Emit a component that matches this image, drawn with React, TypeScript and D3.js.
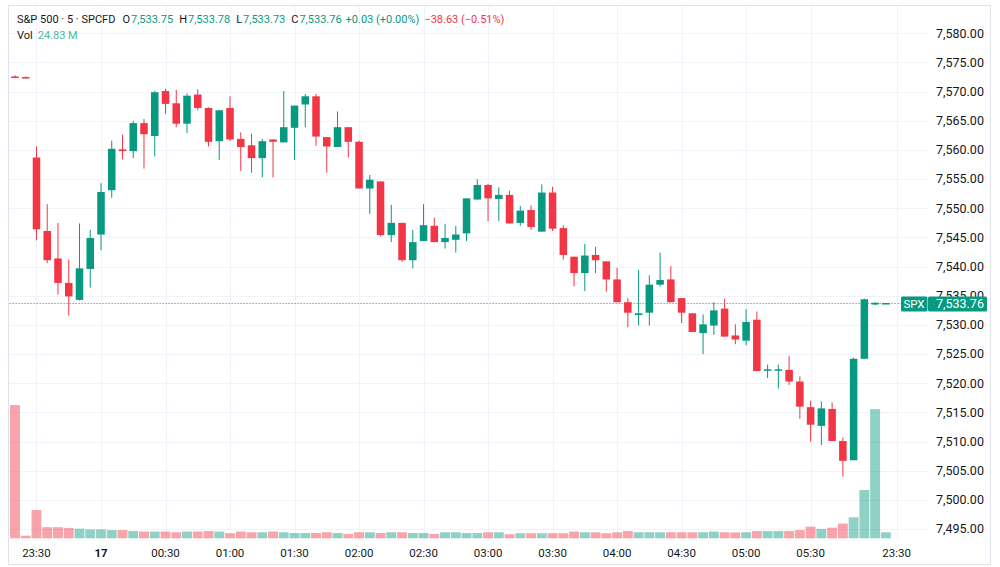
import React, {useEffect, useRef} from "react";
import * as d3 from "d3";

// 5 min bars, S&P 500 CFD
const times = [
    "23:20", "23:25", "23:30", "23:35", "23:40", "23:45", "23:50", "23:55",
    "00:00", "00:05", "00:10", "00:15", "00:20", "00:25", "00:30", "00:35", "00:40", "00:45", "00:50", "00:55",
    "01:00", "01:05", "01:10", "01:15", "01:20", "01:25", "01:30", "01:35", "01:40", "01:45", "01:50", "01:55",
    "02:00", "02:05", "02:10", "02:15", "02:20", "02:25", "02:30", "02:35", "02:40", "02:45", "02:50", "02:55",
    "03:00", "03:05", "03:10", "03:15", "03:20", "03:25", "03:30", "03:35", "03:40", "03:45", "03:50", "03:55",
    "04:00", "04:05", "04:10", "04:15", "04:20", "04:25", "04:30", "04:35", "04:40", "04:45", "04:50", "04:55",
    "05:00", "05:05", "05:10", "05:15", "05:20", "05:25", "05:30", "05:35", "05:40", "05:45", "05:50", "05:55",
    "06:00", "06:05",
]

const opens = [
    7572.6, 7572.5,
    7558.7, 7546.1, 7541.4, 7537.2, 7534.3, 7539.6, 7545.5, 7553.1, 7560.1, 7559.8,
    7564.6, 7562.4, 7570.1, 7568.0, 7564.5, 7569.5, 7567.2, 7561.5, 7567.2, 7561.9,
    7560.8, 7558.6, 7561.8, 7561.3, 7563.8, 7567.8, 7569.2, 7562.2, 7560.5, 7563.9,
    7561.4, 7553.4, 7554.6, 7545.4, 7547.5, 7541.1, 7544.4, 7547.0, 7544.2, 7544.6,
    7545.7, 7551.5, 7554.0, 7551.6, 7552.3, 7547.5, 7549.7, 7546.0, 7552.7, 7546.6,
    7541.7, 7538.9, 7542.0, 7540.9, 7537.8, 7533.9, 7531.7, 7532.1, 7536.9, 7537.8,
    7534.6, 7532.0, 7528.6, 7529.9, 7532.8, 7528.2, 7527.3, 7530.9, 7522.2, 7522.2,
    7522.3, 7520.3, 7515.9, 7512.7, 7515.6, 7510.1, 7506.8, 7524.2, 7533.5, 7533.75,
]
const highs = [
    7572.8, 7572.6,
    7560.6, 7550.7, 7547.5, 7541.2, 7547.4, 7546.3, 7554.3, 7561.6, 7562.6, 7565.0,
    7565.3, 7570.1, 7570.5, 7570.3, 7569.7, 7570.4, 7567.3, 7566.8, 7569.2, 7563.0,
    7562.8, 7561.9, 7561.8, 7570.1, 7567.6, 7569.6, 7569.6, 7562.2, 7566.6, 7563.9,
    7561.6, 7555.7, 7554.6, 7550.6, 7547.5, 7546.3, 7550.7, 7548.4, 7547.3, 7547.0,
    7551.7, 7555.0, 7554.2, 7553.6, 7553.0, 7550.4, 7550.5, 7554.1, 7553.7, 7547.1,
    7541.7, 7543.9, 7543.4, 7540.9, 7539.8, 7534.6, 7539.4, 7538.5, 7542.4, 7540.1,
    7534.6, 7532.0, 7531.8, 7533.9, 7534.5, 7530.1, 7532.7, 7532.3, 7523.2, 7523.2,
    7524.7, 7521.2, 7517.0, 7516.9, 7516.7, 7510.7, 7524.4, 7534.5, 7533.9, 7533.78,
]
const lows = [
    7572.3, 7572.4,
    7544.5, 7540.6, 7535.2, 7531.6, 7534.2, 7536.4, 7542.8, 7551.8, 7558.4, 7558.6,
    7556.8, 7558.9, 7566.2, 7563.9, 7562.9, 7566.8, 7560.6, 7558.3, 7561.5, 7556.4,
    7556.1, 7555.3, 7555.3, 7561.3, 7558.3, 7563.9, 7560.7, 7556.1, 7560.5, 7558.7,
    7553.4, 7549.0, 7545.2, 7544.2, 7540.8, 7539.7, 7544.4, 7544.2, 7543.1, 7542.4,
    7544.4, 7551.5, 7547.8, 7547.8, 7547.4, 7547.0, 7546.3, 7546.0, 7546.1, 7541.2,
    7536.6, 7535.8, 7538.9, 7535.7, 7533.9, 7529.6, 7529.9, 7529.9, 7536.6, 7533.9,
    7530.3, 7528.8, 7525.0, 7528.3, 7528.0, 7526.7, 7526.5, 7522.1, 7520.9, 7519.1,
    7519.7, 7513.9, 7510.0, 7509.4, 7510.1, 7504.0, 7506.8, 7524.2, 7533.4, 7533.73,
]
const closes = [
    7572.4, 7572.4,
    7546.4, 7541.1, 7537.2, 7534.9, 7539.7, 7544.9, 7552.8, 7560.2, 7559.8, 7564.6,
    7562.7, 7569.9, 7567.9, 7564.5, 7569.3, 7567.2, 7561.4, 7566.8, 7561.8, 7560.5,
    7558.6, 7561.5, 7561.4, 7563.9, 7567.6, 7569.2, 7562.3, 7560.6, 7563.9, 7561.4,
    7553.4, 7554.9, 7545.4, 7547.5, 7541.1, 7544.2, 7547.1, 7544.2, 7544.9, 7545.5,
    7551.7, 7554.0, 7551.7, 7552.3, 7547.4, 7549.6, 7546.8, 7552.7, 7546.5, 7542.0,
    7538.9, 7541.9, 7541.1, 7537.8, 7533.9, 7532.1, 7532.0, 7536.9, 7537.7, 7533.9,
    7532.1, 7528.8, 7530.1, 7532.5, 7528.0, 7527.5, 7530.5, 7522.1, 7522.4, 7522.4,
    7520.3, 7516.0, 7512.9, 7515.7, 7510.1, 7506.7, 7524.2, 7534.4, 7533.8, 7533.76,
]
// volume, millions
const volumes = [
    552, 11,
    117, 46, 46, 43, 40, 37, 37, 34, 34, 30,
    28, 28, 28, 25, 28, 28, 30, 28, 21, 28,
    25, 25, 28, 25, 22, 22, 22, 25, 22, 18,
    25, 25, 22, 25, 25, 22, 22, 18, 25, 25,
    22, 22, 25, 25, 17, 21, 21, 21, 21, 21,
    28, 25, 25, 21, 25, 30, 25, 25, 25, 25,
    25, 25, 25, 28, 25, 24, 25, 30, 30, 30,
    30, 34, 48, 39, 44, 61, 87, 200, 535, 24.83,
]

const priceTicks = [7580, 7575, 7570, 7565, 7560, 7555, 7550, 7545, 7540, 7535, 7530, 7525, 7520, 7515, 7510, 7505, 7500, 7495]
const tickTimes = ["23:30", "00:00", "00:30", "01:00", "01:30", "02:00", "02:30", "03:00", "03:30", "04:00", "04:30", "05:00", "05:30", "next"]
const tickLabels = ["23:30", "17", "00:30", "01:00", "01:30", "02:00", "02:30", "03:00", "03:30", "04:00", "04:30", "05:00", "05:30", "23:30"]
const lastPrice = 7533.76

const UP = "#089981"
const DOWN = "#f23645"
const TEXT = "#131722"
const GRID = "#f0f3fa"

const App = () => {
    const svgRef = useRef(null)

    useEffect(() => {
        const svg = d3.select(svgRef.current)
        const slots = [...times, "next"]  // one empty slot on the right, next session

        const xScale = d3.scaleBand().domain(slots).range([9.6, 902])
        const yScale = d3.scaleLinear().domain([7495, 7580]).range([529.1, 33.3])
        const volScale = d3.scaleLinear().domain([0, d3.max(volumes) as number]).range([538.3, 405])

        const bars = times.map((t, i) => ({t, o: opens[i], h: highs[i], l: lows[i], c: closes[i], v: volumes[i]}))
        const cx = (t: string) => (xScale(t) as number) + xScale.bandwidth() / 2
        const bw = xScale.bandwidth()

        // grid
        svg.select(".grid").selectAll(".hgrid")
            .data(priceTicks)
            .join("line")
            .attr("class", "hgrid")
            .attr("x1", 9).attr("x2", 928)
            .attr("y1", d => Math.round(yScale(d)) + 0.5).attr("y2", d => Math.round(yScale(d)) + 0.5)
            .attr("stroke", GRID)
        svg.select(".grid").selectAll(".vgrid")
            .data(tickTimes)
            .join("line")
            .attr("class", "vgrid")
            .attr("x1", d => Math.round(cx(d)) + 0.5).attr("x2", d => Math.round(cx(d)) + 0.5)
            .attr("y1", 6).attr("y2", 540)
            .attr("stroke", GRID)

        // volume
        svg.select(".volume").selectAll("rect")
            .data(bars)
            .join("rect")
            .attr("x", d => cx(d.t) - bw * 0.46)
            .attr("width", bw * 0.92)
            .attr("y", d => volScale(d.v))
            .attr("height", d => volScale(0) - volScale(d.v))
            .attr("fill", d => d.c >= d.o ? UP : DOWN)
            .attr("opacity", 0.45)

        // candles
        svg.select(".wicks").selectAll("line")
            .data(bars)
            .join("line")
            .attr("x1", d => cx(d.t)).attr("x2", d => cx(d.t))
            .attr("y1", d => yScale(d.h)).attr("y2", d => yScale(d.l))
            .attr("stroke", d => d.c >= d.o ? UP : DOWN)
            .attr("stroke-width", 1)
        svg.select(".bodies").selectAll("rect")
            .data(bars)
            .join("rect")
            .attr("x", d => cx(d.t) - bw * 0.35)
            .attr("width", bw * 0.7)
            .attr("y", d => yScale(Math.max(d.o, d.c)))
            .attr("height", d => Math.max(1.5, Math.abs(yScale(d.o) - yScale(d.c))))
            .attr("fill", d => d.c >= d.o ? UP : DOWN)

        // last price line
        svg.select(".lastLine")
            .attr("x1", 9.6).attr("x2", 902)
            .attr("y1", Math.round(yScale(lastPrice)) + 0.5).attr("y2", Math.round(yScale(lastPrice)) + 0.5)
            .attr("stroke", UP)
            .attr("stroke-dasharray", "1 2")

        // price axis (the 7,535 label sits under the price tag, like in TradingView)
        svg.select(".yAxis").selectAll("text")
            .data(priceTicks)
            .join("text")
            .attr("x", 936)
            .attr("y", d => yScale(d))
            .attr("dy", "0.35em")
            .attr("font-size", 12.5)
            .attr("fill", TEXT)
            .text(d => d3.format(",.2f")(d))

        // time axis
        svg.select(".xAxis").selectAll("text")
            .data(tickTimes)
            .join("text")
            .attr("x", d => cx(d))
            .attr("y", 553)
            .attr("dy", "0.35em")
            .attr("text-anchor", "middle")
            .attr("font-size", 11.5)
            .attr("font-weight", (d, i) => tickLabels[i] === "17" ? 700 : 400)
            .attr("fill", TEXT)
            .text((d, i) => tickLabels[i])

        // last price tag
        const ty = yScale(lastPrice) + 1
        const tag = svg.select(".tag")
        tag.selectAll("*").remove()
        tag.append("rect").attr("x", 901).attr("y", ty - 7.5).attr("width", 26.5).attr("height", 15).attr("rx", 1.5).attr("fill", UP)
        tag.append("rect").attr("x", 928).attr("y", ty - 7.5).attr("width", 59).attr("height", 15).attr("rx", 1.5).attr("fill", UP)
        tag.append("text").attr("x", 914).attr("y", ty).attr("dy", "0.35em").attr("text-anchor", "middle")
            .attr("font-size", 11.5).attr("fill", "#fff").text("SPX")
        tag.append("text").attr("x", 936).attr("y", ty).attr("dy", "0.35em")
            .attr("font-size", 12.5).attr("fill", "#fff").text(d3.format(",.2f")(lastPrice))
    }, [])

    const last = lastBar()
    return (
        <svg ref={svgRef} width={1000} height={567}
             style={{position: "absolute", left: 0, top: 0, background: "#fff"}}
             fontFamily="Roboto, 'Noto Sans', sans-serif">
            <rect x={8.5} y={5.5} width={982} height={559} fill="none" stroke="#e0e3eb"/>
            <g className={"grid"}/>
            <g className={"volume"}/>
            <g className={"wicks"}/>
            <g className={"bodies"}/>
            <line className={"lastLine"}/>
            <g className={"yAxis"}/>
            <g className={"xAxis"}/>
            <g className={"tag"}/>

            {/* legend */}
            <text x={17} y={19} fontSize={11} dy="0.35em" fill={TEXT}>
                <tspan>S&amp;P 500 · 5 · SPCFD</tspan>
                <tspan dx={7}>O</tspan>
                <tspan dx={1} fill={UP}>{last.o}</tspan>
                <tspan dx={6}>H</tspan>
                <tspan dx={1} fill={UP}>{last.h}</tspan>
                <tspan dx={6}>L</tspan>
                <tspan dx={1} fill={UP}>{last.l}</tspan>
                <tspan dx={6}>C</tspan>
                <tspan dx={1} fill={UP}>{last.c}</tspan>
                <tspan dx={4} fill={UP}>+0.03 (+0.00%)</tspan>
                <tspan dx={5} fill={DOWN}>−38.63 (−0.51%)</tspan>
            </text>
            <text x={17} y={35} fontSize={11} dy="0.35em" fill={TEXT}>
                <tspan>Vol</tspan>
                <tspan dx={5} fill="#4db6a5">24.83 M</tspan>
            </text>
        </svg>
    );
};

// values of the last bar for the legend
function lastBar() {
    const n = times.length - 1
    const f = d3.format(",.2f")
    return {o: f(opens[n]), h: f(highs[n]), l: f(lows[n]), c: f(closes[n])}
}

export default App;
